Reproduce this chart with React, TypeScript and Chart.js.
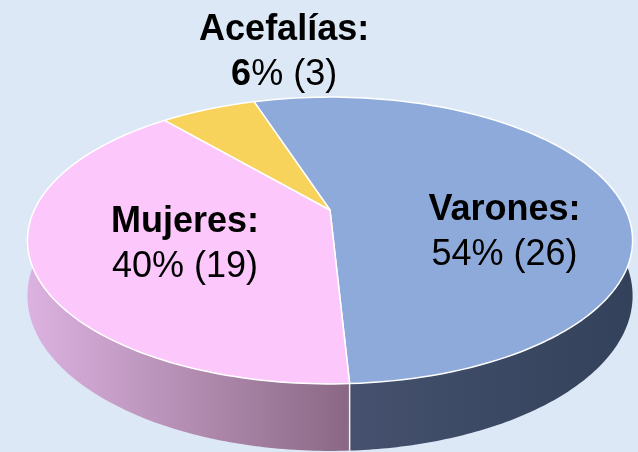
import React, { useEffect, useRef } from 'react';
import { Chart, registerables } from 'chart.js';

Chart.register(...registerables);

// ---- data ----
const categories = ['Varones', 'Mujeres', 'Acefalías'];
const counts = [26, 19, 3];
const percentBold = [false, false, true];

// ---- styles ----
const topColors = ['#8eaadb', '#fcc8fc', '#f8d35c'];
const wallLight = ['#45516e', '#dcb2e0', '#e0b84a'];
const wallDark = ['#33415a', '#8a6884', '#b08a30'];
const labelRadius = [0.6, 0.5, 1.0];
const labelDX = [4, -2, 76];
const labelDY = [29, 0, -65];
const FONT = '"Liberation Sans", Arial, sans-serif';
const BG = '#dce8f5';
const START_ROTATION = -18;

// perspective projection constants (relative to Chart.js outerRadius)
const PERSP = 0.2126;
const KX = 1.408;
const KY = 0.652;
const KD = 0.2514;

function makeProj(cx: number, cy: number, R: number) {
  return (ang: number, r: number, drop: boolean) => {
    const u = Math.cos(ang) * r;
    const v = Math.sin(ang) * r;
    const w = 1 - v * PERSP;
    return {
      x: cx + (R * KX * u) / w,
      y: cy + (R * KY * v) / w + (drop ? (R * KD) / w : 0),
    };
  };
}

const pie3d = {
  id: 'pie3d',
  beforeDatasetsDraw(chart: any) {
    const meta = chart.getDatasetMeta(0);
    const arcs = meta.data as any[];
    if (!arcs.length) return false;
    const ctx = chart.ctx as CanvasRenderingContext2D;
    const a0 = arcs[0];
    const proj = makeProj(a0.x, a0.y, a0.outerRadius);
    const N = 120;

    // walls (front half only)
    arcs.forEach((arc, i) => {
      const s = arc.startAngle;
      const e = arc.endAngle;
      for (const k of [-1, 0, 1]) {
        const lo = Math.max(s, 2 * Math.PI * k);
        const hi = Math.min(e, Math.PI + 2 * Math.PI * k);
        if (hi <= lo) continue;
        const topPts: { x: number; y: number }[] = [];
        const botPts: { x: number; y: number }[] = [];
        for (let j = 0; j <= N; j++) {
          const a = lo + ((hi - lo) * j) / N;
          topPts.push(proj(a, 1, false));
          botPts.push(proj(a, 1, true));
        }
        let minX = Infinity, maxX = -Infinity;
        [...topPts, ...botPts].forEach((p) => {
          minX = Math.min(minX, p.x);
          maxX = Math.max(maxX, p.x);
        });
        const g = ctx.createLinearGradient(minX, 0, maxX, 0);
        g.addColorStop(0, wallLight[i]);
        g.addColorStop(1, wallDark[i]);
        ctx.beginPath();
        topPts.forEach((p, j) => (j ? ctx.lineTo(p.x, p.y) : ctx.moveTo(p.x, p.y)));
        for (let j = botPts.length - 1; j >= 0; j--) ctx.lineTo(botPts[j].x, botPts[j].y);
        ctx.closePath();
        ctx.fillStyle = g;
        ctx.fill();
      }
    });

    // wall boundary lines
    ctx.strokeStyle = 'rgba(255,255,255,0.9)';
    ctx.lineWidth = 1.5;
    arcs.forEach((arc) => {
      const a = arc.endAngle;
      const sn = Math.sin(a);
      if (sn > 0.05) {
        const t = proj(a, 1, false);
        const b = proj(a, 1, true);
        ctx.beginPath();
        ctx.moveTo(t.x, t.y);
        ctx.lineTo(b.x, b.y);
        ctx.stroke();
      }
    });

    // top faces
    arcs.forEach((arc, i) => {
      const c = proj(0, 0, false);
      ctx.beginPath();
      ctx.moveTo(c.x, c.y);
      const s = arc.startAngle;
      const e = arc.endAngle;
      for (let j = 0; j <= N; j++) {
        const p = proj(s + ((e - s) * j) / N, 1, false);
        ctx.lineTo(p.x, p.y);
      }
      ctx.closePath();
      ctx.fillStyle = topColors[i];
      ctx.fill();
      ctx.strokeStyle = '#ffffff';
      ctx.lineWidth = 1.5;
      ctx.lineJoin = 'round';
      ctx.stroke();
    });
    return false;
  },
  afterDraw(chart: any) {
    const meta = chart.getDatasetMeta(0);
    const arcs = meta.data as any[];
    if (!arcs.length) return;
    const ctx = chart.ctx as CanvasRenderingContext2D;
    const a0 = arcs[0];
    const proj = makeProj(a0.x, a0.y, a0.outerRadius);
    const total = counts.reduce((s, v) => s + v, 0);
    ctx.save();
    ctx.fillStyle = '#000000';
    ctx.textBaseline = 'alphabetic';
    arcs.forEach((arc, i) => {
      const mid = (arc.startAngle + arc.endAngle) / 2;
      const p = proj(mid, labelRadius[i], false);
      const x = p.x + labelDX[i];
      const y = p.y + labelDY[i];
      ctx.font = `bold 36px ${FONT}`;
      ctx.textAlign = 'center';
      ctx.fillText(categories[i] + ':', x, y - 4);
      const pct = Math.round((counts[i] / total) * 100);
      const segs = [
        { t: String(pct), b: percentBold[i] },
        { t: `% (${counts[i]})`, b: false },
      ];
      ctx.textAlign = 'left';
      const widths = segs.map((sg) => {
        ctx.font = `${sg.b ? 'bold ' : ''}36px ${FONT}`;
        return ctx.measureText(sg.t).width;
      });
      let xx = x - widths.reduce((s, w) => s + w, 0) / 2;
      segs.forEach((sg, j) => {
        ctx.font = `${sg.b ? 'bold ' : ''}36px ${FONT}`;
        ctx.fillText(sg.t, xx, y + 41);
        xx += widths[j];
      });
    });
    ctx.restore();
  },
};

export default function App() {
  const ref = useRef<HTMLCanvasElement | null>(null);
  useEffect(() => {
    document.body.style.margin = '0';
    const canvas = ref.current;
    if (!canvas) return;
    const chart = new Chart(canvas, {
      type: 'pie',
      data: {
        labels: categories,
        datasets: [
          {
            data: counts,
            backgroundColor: topColors,
            borderWidth: 0,
          },
        ],
      },
      options: {
        responsive: false,
        animation: false,
        events: [],
        rotation: START_ROTATION,
        layout: { padding: { left: 22, right: 0, top: 0, bottom: 32 } },
        plugins: {
          legend: { display: false },
          tooltip: { enabled: false },
        },
      },
      plugins: [pie3d],
    });
    return () => chart.destroy();
  }, []);
  return (
    <div
      style={{
        position: 'fixed',
        left: 0,
        top: 0,
        width: 638,
        height: 452,
        background: BG,
        overflow: 'hidden',
      }}
    >
      <canvas ref={ref} width={638} height={452} style={{ display: 'block' }} />
    </div>
  );
}
